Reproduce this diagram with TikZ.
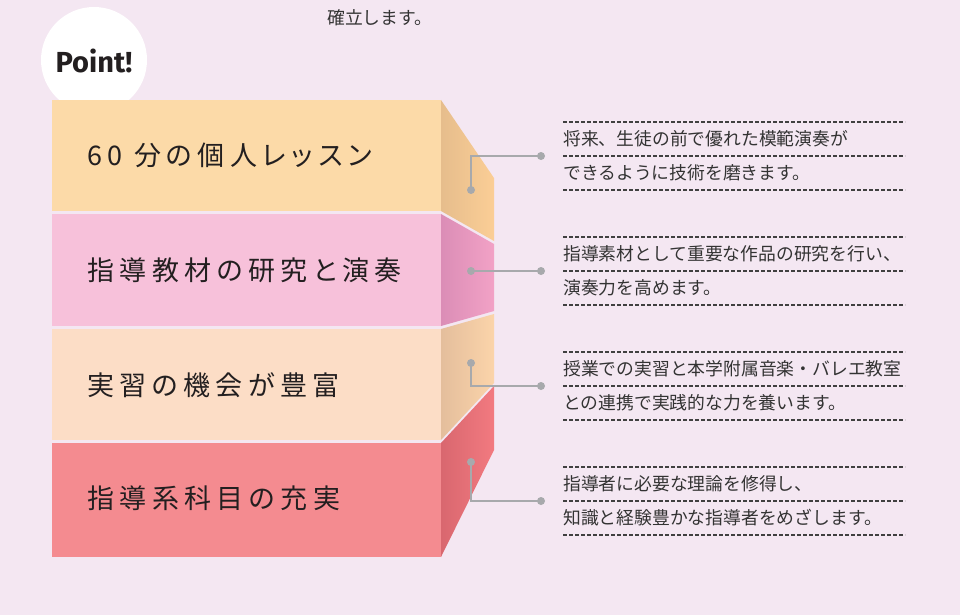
\documentclass[tikz,border=0pt]{standalone}
\usepackage{fontspec}
\setmainfont{Noto Sans CJK JP}
\newfontfamily\labelfont{Noto Sans CJK JP}[LetterSpace=20,RawFeature=+palt]
\newfontfamily\pointfont{Fira Sans}
\definecolor{bgpink}{HTML}{F4E7F2}
\definecolor{linegray}{HTML}{A7A9AC}
\definecolor{rulegray}{HTML}{404040}
\definecolor{textgray}{HTML}{333333}
\definecolor{labelblack}{HTML}{231F20}
\definecolor{bandA}{HTML}{FCDAA8}
\definecolor{bandB}{HTML}{F7C1DA}
\definecolor{bandC}{HTML}{FCDDC6}
\definecolor{bandD}{HTML}{F48B90}
\definecolor{sideAl}{HTML}{E6BD8C}
\definecolor{sideAr}{HTML}{FBCE96}
\definecolor{sideBl}{HTML}{DB8DB6}
\definecolor{sideBr}{HTML}{F2A2C6}
\definecolor{sideCl}{HTML}{E4BE9C}
\definecolor{sideCr}{HTML}{FBD4AA}
\definecolor{sideDl}{HTML}{D9676F}
\definecolor{sideDr}{HTML}{F27A80}
\usetikzlibrary{positioning}

\begin{document}
\begin{tikzpicture}[x=1pt,y=-1pt,
  dot/.style={circle,fill=linegray,inner sep=0pt,minimum size=8pt},
  conn/.style={linegray,line width=2pt},
  dashrule/.style={draw=rulegray,line width=1.2pt,dash pattern=on 4pt off 2pt},
  desc/.style={anchor=west,inner sep=0pt,font=\fontsize{17.8}{20}\selectfont,text=textgray},
  bandlabel/.style={anchor=west,inner sep=0pt,font=\labelfont\fontsize{27}{30}\selectfont,text=labelblack}]
  \fill[bgpink] (0,0) rectangle (960,615);
  \useasboundingbox (0,0) rectangle (960,615);
  \node[desc] (intro) at (327,18) {確立します。};

  % point badge
  \fill[white] (94,60) circle (53);
  \node[font=\pointfont\bfseries\fontsize{29}{30}\selectfont,text=labelblack] (point) at (94,61) {Point!};

  % bands, front and side
  \fill[bandA] (52,100) rectangle (441,211);
  \shade[left color=sideAl, right color=sideAr] (441,100) -- (494,178) -- (494,241) -- (441,211) -- cycle;
  \fill[bandB] (52,214) rectangle (441,326);
  \shade[left color=sideBl, right color=sideBr] (441,214) -- (494,244) -- (494,311) -- (441,326) -- cycle;
  \fill[bandC] (52,329) rectangle (441,440);
  \shade[left color=sideCl, right color=sideCr] (441,329) -- (494,314) -- (494,383) -- (441,440) -- cycle;
  \fill[bandD] (52,443) rectangle (441,557);
  \shade[left color=sideDl, right color=sideDr] (441,443) -- (494,386) -- (494,450) -- (441,557) -- cycle;

  \node[bandlabel] (lab1) at (87,155) {60 分の個人レッスン};
  \node[bandlabel] (lab2) at (87,270) {指導教材の研究と演奏};
  \node[bandlabel] (lab3) at (87,385) {実習の機会が豊富};
  \node[bandlabel] (lab4) at (87,498) {指導系科目の充実};

  % connectors
  \node[dot] (p1) at (471,190) {};
  \node[dot] (q1) at (541,156) {};
  \node[dot] (p2) at (471,271) {};
  \node[dot] (q2) at (541,271) {};
  \node[dot] (p3) at (471,363) {};
  \node[dot] (q3) at (541,386) {};
  \node[dot] (p4) at (471,462) {};
  \node[dot] (q4) at (541,501) {};
  \draw[conn] (p1.center) |- (q1.center);
  \draw[conn] (p2.center) -- (q2.center);
  \draw[conn] (p3.center) |- (q3.center);
  \draw[conn] (p4.center) |- (q4.center);

  % descriptions
  \foreach \y in {122,156,190,237,271,305,352,386,420,467,501,535}
    \draw[dashrule] (563,\y) -- (905,\y);
  \node[desc] (t1a) at (563,139) {将来、生徒の前で優れた模範演奏が};
  \node[desc] (t1b) at (563,173) {できるように技術を磨きます。};
  \node[desc] (t2a) at (563,254) {指導素材として重要な作品の研究を行い、};
  \node[desc] (t2b) at (563,288) {演奏力を高めます。};
  \node[desc] (t3a) at (563,369) {授業での実習と本学附属音楽・バレエ教室};
  \node[desc] (t3b) at (563,403) {との連携で実践的な力を養います。};
  \node[desc] (t4a) at (563,484) {指導者に必要な理論を修得し、};
  \node[desc] (t4b) at (563,518) {知識と経験豊かな指導者をめざします。};
\end{tikzpicture}
\end{document}
